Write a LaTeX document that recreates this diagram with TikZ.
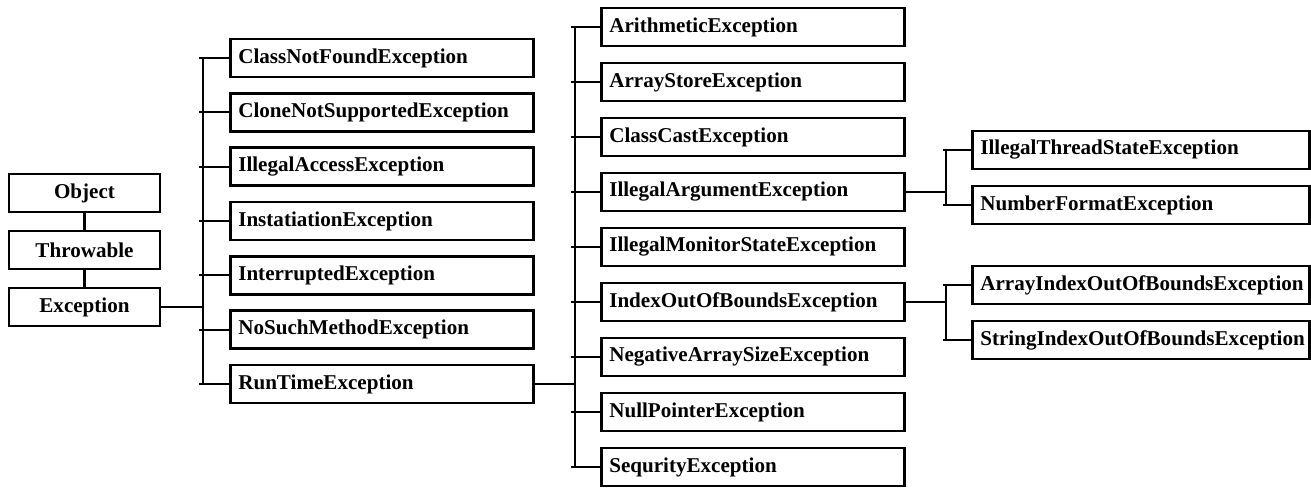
\documentclass[tikz,border=0pt]{standalone}
\usepackage{fontspec}
\setmainfont{Liberation Serif}
\usetikzlibrary{positioning}

\begin{document}
\begin{tikzpicture}[
    x=0.02cm, y=-0.02cm,
    base/.style={rectangle, draw=black, line width=1.5pt, minimum height=0.76cm, inner sep=0pt, font=\bfseries\fontsize{12}{14}\selectfont},
    root/.style={base, minimum width=3.02cm, align=center},
    exc/.style={base, anchor=west, minimum width=6.06cm, text width=5.74cm, align=left},
    wide/.style={base, anchor=west, minimum width=6.74cm, text width=6.42cm, align=left},
    link/.style={line width=1.35pt}
  ]
    \useasboundingbox (0,0) rectangle (1311,487);

    % root chain
    \node[root] (object) at (84.5,193) {Object};
    \node[root] (throwable) at (84.5,250) {Throwable};
    \node[root] (exception) at (84.5,307) {Exception};

    % checked exceptions
    \node[exc] (classnotfound) at (229,58) {ClassNotFoundException};
    \node[exc] (clonenot) at (229,112.3) {CloneNotSupportedException};
    \node[exc] (illaccess) at (229,166.7) {IllegalAccessException};
    \node[exc] (instatiation) at (229,221) {InstatiationException};
    \node[exc] (interrupted) at (229,275.3) {InterruptedException};
    \node[exc] (nosuchmethod) at (229,329.7) {NoSuchMethodException};
    \node[exc] (runtime) at (229,384) {RunTimeException};

    % runtime exceptions
    \node[exc] (arith) at (600,27) {ArithmeticException};
    \node[exc] (arraystore) at (600,82) {ArrayStoreException};
    \node[exc] (classcast) at (600,137) {ClassCastException};
    \node[exc] (illarg) at (600,192) {IllegalArgumentException};
    \node[exc] (illmonitor) at (600,247) {IllegalMonitorStateException};
    \node[exc] (indexoob) at (600,302) {IndexOutOfBoundsException};
    \node[exc] (negsize) at (600,357) {NegativeArraySizeException};
    \node[exc] (nullptr) at (600,412) {NullPointerException};
    \node[exc] (sequrity) at (600,467) {SequrityException};

    % subclasses
    \node[wide] (illthread) at (971,150) {IllegalThreadStateException};
    \node[wide] (numformat) at (971,205) {NumberFormatException};
    \node[wide] (arrayindex) at (971,285) {ArrayIndexOutOfBoundsException};
    \node[wide] (stringindex) at (971,340) {StringIndexOutOfBoundsException};

    \coordinate (busa) at (203,0);
    \coordinate (busb) at (575,0);
    \coordinate (busc) at (946,0);

    \draw[link] (object) -- (throwable);
    \draw[link] (throwable) -- (exception);

    \draw[link] (exception.east) -- (busa |- exception);
    \draw[link] (busa |- classnotfound) -- (busa |- runtime);
    \draw[link] ([xshift=-2]busa |- classnotfound) -- (classnotfound.west);
    \draw[link] ([xshift=-2]busa |- clonenot) -- (clonenot.west);
    \draw[link] ([xshift=-2]busa |- illaccess) -- (illaccess.west);
    \draw[link] ([xshift=-2]busa |- instatiation) -- (instatiation.west);
    \draw[link] ([xshift=-2]busa |- interrupted) -- (interrupted.west);
    \draw[link] ([xshift=-2]busa |- nosuchmethod) -- (nosuchmethod.west);
    \draw[link] ([xshift=-2]busa |- runtime) -- (runtime.west);

    \draw[link] (runtime.east) -- (busb |- runtime);
    \draw[link] (busb |- arith) -- (busb |- sequrity);
    \draw[link] ([xshift=-2]busb |- arith) -- (arith.west);
    \draw[link] ([xshift=-2]busb |- arraystore) -- (arraystore.west);
    \draw[link] ([xshift=-2]busb |- classcast) -- (classcast.west);
    \draw[link] ([xshift=-2]busb |- illarg) -- (illarg.west);
    \draw[link] ([xshift=-2]busb |- illmonitor) -- (illmonitor.west);
    \draw[link] ([xshift=-2]busb |- indexoob) -- (indexoob.west);
    \draw[link] ([xshift=-2]busb |- negsize) -- (negsize.west);
    \draw[link] ([xshift=-2]busb |- nullptr) -- (nullptr.west);
    \draw[link] ([xshift=-2]busb |- sequrity) -- (sequrity.west);

    \draw[link] (illarg.east) -- (busc |- illarg);
    \draw[link] (busc |- illthread) -- (busc |- numformat);
    \draw[link] ([xshift=-2]busc |- illthread) -- (illthread.west);
    \draw[link] ([xshift=-2]busc |- numformat) -- (numformat.west);

    \draw[link] (indexoob.east) -- (busc |- indexoob);
    \draw[link] (busc |- arrayindex) -- (busc |- stringindex);
    \draw[link] ([xshift=-2]busc |- arrayindex) -- (arrayindex.west);
    \draw[link] ([xshift=-2]busc |- stringindex) -- (stringindex.west);
  \end{tikzpicture}
\end{document}
